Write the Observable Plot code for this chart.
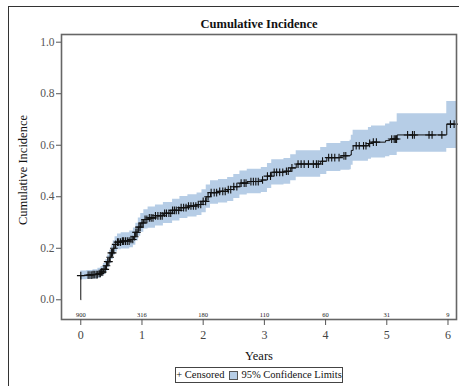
<!DOCTYPE html>
<html>
<head>
<meta charset="utf-8">
<script src="https://cdn.jsdelivr.net/npm/d3@7"></script>
<script src="https://cdn.jsdelivr.net/npm/@observablehq/plot@0.6"></script>
<style>
  html, body { margin: 0; padding: 0; background: #fff; overflow: hidden; }
  #wrap { position: relative; width: 459px; height: 386px; font-family: "Liberation Serif", "Times New Roman", serif; }
  #outer { position: absolute; left: 8px; top: 6px; width: 470px; height: 420px; border: 1.5px solid #333; box-sizing: border-box; }
  #chart { position: absolute; left: 0; top: 0; }
  .lbl { position: absolute; color: #111; white-space: nowrap; }
  #title { left: 259px; top: 17px; transform: translateX(-50%); font-size: 12.5px; font-weight: bold; line-height: 14px; }
  #ylabel { left: 23px; top: 170px; transform: translate(-50%, -50%) rotate(-90deg); font-size: 12.5px; line-height: 14px; }
  #xlabel { left: 259px; top: 349px; transform: translateX(-50%); font-size: 12.5px; line-height: 14px; }
  #legend { position: absolute; left: 175px; top: 367px; width: 168px; height: 16px; border: 1px solid #444; box-sizing: border-box;
            font-size: 10.5px; line-height: 14px; display: flex; align-items: center; justify-content: center; color: #111; white-space: nowrap; }
  #legend span { white-space: nowrap; flex: none; }
  #legend .sw { display: inline-block; width: 7px; height: 7px; background: #b6cde6; border: 1px solid #555; margin: 0 3px 0 5px; }
</style>
</head>
<body>
<div id="wrap">
  <div id="outer"></div>
  <div id="chart"></div>
  <div id="title" class="lbl">Cumulative Incidence</div>
  <div id="ylabel" class="lbl">Cumulative Incidence</div>
  <div id="xlabel" class="lbl">Years</div>
  <div id="legend"><span>+&nbsp;Censored</span><span class="sw"></span><span>95% Confidence Limits</span></div>
</div>
<script>
// Step times (years) and cumulative incidence with 95% confidence limits
const times = [0, 0.10, 0.20, 0.28, 0.33, 0.37, 0.41, 0.44, 0.47, 0.50, 0.53, 0.56, 0.60, 0.66, 0.80, 0.86, 0.90, 0.94, 0.98, 1.03, 1.10, 1.22, 1.35, 1.50, 1.62, 1.75, 1.90, 1.98, 2.05, 2.12, 2.25, 2.40, 2.50, 2.60, 2.72, 2.95, 3.05, 3.12, 3.32, 3.43, 3.52, 3.92, 4.02, 4.25, 4.40, 4.42, 4.45, 4.70, 4.75, 4.98, 5.05, 5.17, 5.98, 6.14];
const cif   = [0.094, 0.096, 0.098, 0.102, 0.108, 0.118, 0.132, 0.148, 0.165, 0.182, 0.200, 0.215, 0.224, 0.228, 0.234, 0.245, 0.262, 0.282, 0.298, 0.312, 0.318, 0.326, 0.336, 0.347, 0.358, 0.364, 0.370, 0.382, 0.400, 0.416, 0.421, 0.428, 0.439, 0.453, 0.459, 0.465, 0.480, 0.495, 0.499, 0.512, 0.527, 0.538, 0.552, 0.559, 0.562, 0.580, 0.598, 0.607, 0.612, 0.618, 0.624, 0.640, 0.682, 0.682];
const lower = [0.078, 0.080, 0.081, 0.084, 0.089, 0.097, 0.110, 0.124, 0.140, 0.156, 0.172, 0.186, 0.194, 0.197, 0.202, 0.212, 0.228, 0.247, 0.262, 0.275, 0.278, 0.286, 0.296, 0.306, 0.316, 0.321, 0.327, 0.338, 0.355, 0.371, 0.376, 0.382, 0.393, 0.407, 0.412, 0.417, 0.432, 0.446, 0.449, 0.462, 0.476, 0.486, 0.498, 0.503, 0.505, 0.522, 0.538, 0.546, 0.550, 0.555, 0.560, 0.573, 0.587, 0.587];
const upper = [0.112, 0.114, 0.117, 0.122, 0.129, 0.141, 0.156, 0.174, 0.192, 0.210, 0.229, 0.245, 0.255, 0.260, 0.267, 0.279, 0.297, 0.318, 0.335, 0.350, 0.360, 0.368, 0.378, 0.390, 0.401, 0.408, 0.415, 0.427, 0.446, 0.462, 0.467, 0.475, 0.486, 0.500, 0.507, 0.514, 0.529, 0.544, 0.549, 0.563, 0.579, 0.591, 0.607, 0.615, 0.619, 0.639, 0.658, 0.669, 0.675, 0.682, 0.690, 0.722, 0.770, 0.770];

// Censoring times (years)
const censored = [0.00, 0.12, 0.15, 0.18, 0.20, 0.22, 0.25, 0.27, 0.30, 0.32, 0.34, 0.36, 0.38, 0.40, 0.42, 0.44, 0.46, 0.48, 0.50, 0.52, 0.54, 0.57, 0.60, 0.62, 0.65, 0.68, 0.70, 0.73, 0.76, 0.79, 0.82, 0.85, 0.88, 0.90, 0.92, 0.95, 0.97, 1.00, 1.02, 1.05, 1.08, 1.12, 1.15, 1.18, 1.22, 1.26, 1.30, 1.33, 1.37, 1.40, 1.44, 1.47, 1.50, 1.53, 1.56, 1.60, 1.64, 1.68, 1.72, 1.76, 1.80, 1.84, 1.88, 1.92, 1.96, 2.00, 2.04, 2.08, 2.13, 2.18, 2.22, 2.27, 2.32, 2.36, 2.41, 2.45, 2.50, 2.55, 2.62, 2.67, 2.70, 2.78, 2.82, 2.86, 2.90, 2.97, 3.05, 3.10, 3.16, 3.20, 3.25, 3.30, 3.36, 3.39, 3.45, 3.55, 3.60, 3.65, 3.72, 3.80, 3.85, 3.88, 3.95, 4.05, 4.10, 4.15, 4.22, 4.30, 4.33, 4.50, 4.55, 4.62, 4.66, 4.72, 4.78, 4.83, 5.08, 5.12, 5.14, 5.16, 5.34, 5.42, 5.45, 5.69, 5.74, 5.90, 6.04, 6.10];

// Number at risk
const atRiskTimes = [0, 1, 2, 3, 4, 5, 6];
const atRisk = [900, 316, 180, 110, 60, 31, 9];

const xTicks = [0, 1, 2, 3, 4, 5, 6];
const yTicks = [0, 0.2, 0.4, 0.6, 0.8, 1.0];

const steps = times.map((t, i) => ({t, v: cif[i], lo: lower[i], hi: upper[i]}));
const lineData = [{t: 0, v: 0}, ...steps.slice(0, -1)];
const valueAt = t => cif[Math.max(0, d3.bisectRight(times, t) - 1)];
const cens = censored.map(t => ({t, v: valueAt(t)}));
const risk = atRiskTimes.map((t, i) => ({t, n: atRisk[i]}));

const chart = Plot.plot({
  width: 459,
  height: 386,
  marginLeft: 61,
  marginRight: 3,
  marginTop: 34,
  marginBottom: 67,
  style: {fontFamily: "'Liberation Serif', 'Times New Roman', serif", background: "transparent", overflow: "visible"},
  x: {domain: [-0.315, 6.139]},
  y: {domain: [-0.0765, 1.0299]},
  marks: [
    Plot.areaY(steps, {x: "t", y1: "lo", y2: "hi", curve: "step-after", fill: "#b6cde6"}),
    Plot.line([...lineData, {t: 6.10, v: 0.682}], {x: "t", y: "v", curve: "step-after", stroke: "#111", strokeWidth: 1}),
    Plot.dot(cens, {x: "t", y: "v", symbol: "plus", r: 2.6, stroke: "#111", strokeWidth: 1.1}),
    Plot.text(risk, {x: "t", y: () => -0.057, text: d => String(d.n), fontSize: 6.5, fill: "#222"}),
    Plot.frame({stroke: "#666", strokeWidth: 1.6}),
    Plot.axisX({ticks: xTicks, tickSize: 6, tickPadding: 5, fontSize: 12, stroke: "#555", color: "#444", label: null, tickFormat: d => String(d)}),
    Plot.axisY({ticks: yTicks, tickSize: 5, tickPadding: 2, fontSize: 11.5, stroke: "#555", color: "#555", label: null, tickFormat: d3.format(".1f")})
  ]
});
document.getElementById("chart").appendChild(chart);
</script>
</body>
</html>
